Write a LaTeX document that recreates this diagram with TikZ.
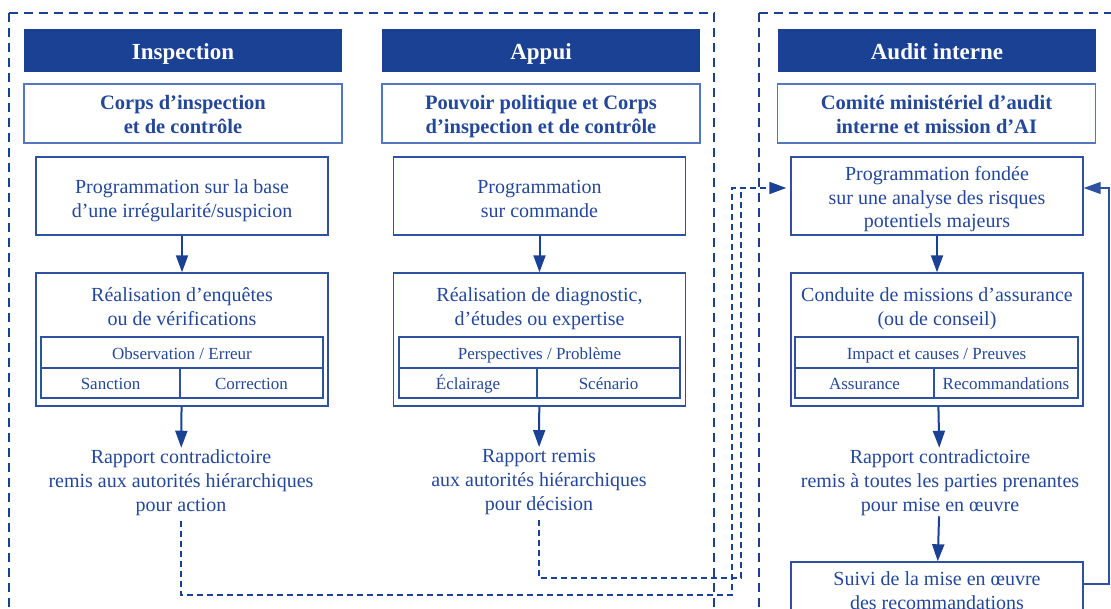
\documentclass[tikz,border=0pt]{standalone}
\usepackage{fontspec}
\setmainfont{Liberation Serif}
\usetikzlibrary{arrows.meta}

\definecolor{navy}{HTML}{1A4194}
\definecolor{ink}{HTML}{23479B}
\definecolor{frame}{HTML}{2E51A0}
\definecolor{lightframe}{HTML}{5577BE}

% invisible strut that fixes the height/depth of the first and last text lines
\newcommand\lowstrut{\vrule width 0pt height .85\baselineskip depth .15\baselineskip}

\tikzset{
  lowtext/.style={execute at begin node=\lowstrut, execute at end node=\lowstrut},
  head/.style={fill=navy, text=white, font=\fontsize{23}{27}\selectfont\bfseries,
    minimum width=318pt, minimum height=43pt, inner sep=0pt,
    text height=17.6pt, text depth=0pt},
  ownerbox/.style={draw=lightframe, line width=1.5pt,
    minimum width=318pt, minimum height=59pt, inner sep=0pt},
  ownertext/.style={lowtext, text=ink, font=\fontsize{20.5}{24}\selectfont\bfseries,
    align=center, inner sep=0pt},
  stepbox/.style={draw=frame, line width=1.4pt, minimum width=292pt, inner sep=0pt},
  caption/.style={lowtext, text=ink, font=\fontsize{20}{23.5}\selectfont, align=center, inner sep=0pt},
  cell/.style={lowtext, draw=frame, line width=1.4pt, text=ink,
    font=\fontsize{17}{20}\selectfont, inner sep=0pt},
  note/.style={lowtext, text=ink, font=\fontsize{20}{24}\selectfont, align=center, inner sep=0pt},
  flow/.style={draw=navy, line width=2pt, -{Triangle[length=17pt,width=12pt]}},
  route/.style={draw=navy, line width=1.8pt, dash pattern=on 6pt off 4pt},
  zone/.style={draw=navy, line width=2.8pt, dash pattern=on 9pt off 6pt},
  back/.style={draw=frame, line width=1.3pt, -{Triangle[length=17pt,width=12pt]}},
}

\begin{document}
\begin{tikzpicture}[x=1pt,y=-1pt]
\useasboundingbox (0,0) rectangle (1111,609);
\clip (0,0) rectangle (1111,609);

% dashed zones
\draw[zone] (9,13) -- (9,625);
\draw[zone] (9,13) -- (714,13) -- (714,625);
\draw[zone] (759,13) -- (759,625);
\draw[zone] (759,13) -- (1135,13);

% ---------- Inspection ----------
\node[head] (ha) at (183,50.5) {Inspection};
\node[ownerbox] (oa) at (183,113.5) {};
\node[ownertext] (oat) at (183,116.5) {Corps d’inspection\\et de contrôle};
\node[stepbox, minimum height=78pt] (a1) at (182,196) {};
\node[caption] (a1t) at (182,200.5) {Programmation sur la base\\d’une irrégularité/suspicion};
\node[stepbox, minimum height=133pt] (a2) at (182,339.5) {};
\node[caption] (ta) at (182,308.5) {Réalisation d’enquêtes\\ou de vérifications};
\node[cell, minimum width=282pt, minimum height=31pt] (ka) at (182,352.5) {Observation / Erreur};
\node[cell, minimum width=139pt, minimum height=30pt] (kal) at (110.5,383) {Sanction};
\node[cell, minimum width=143pt, minimum height=30pt] (kar) at (251.5,383) {Correction};
\node[note] (ra) at (181,483)
  {Rapport contradictoire\\remis aux autorités hiérarchiques\\pour action};

% ---------- Appui ----------
\node[head] (hb) at (541,50.5) {Appui};
\node[ownerbox] (ob) at (541,113.5) {};
\node[ownertext] (obt) at (541,116.5) {Pouvoir politique et Corps\\d’inspection et de contrôle};
\node[stepbox, minimum height=78pt] (b1) at (539.5,196) {};
\node[caption] (b1t) at (539.5,200.5) {Programmation\\sur commande};
\node[stepbox, minimum height=133pt] (b2) at (539.5,339.5) {};
\node[caption] (tb) at (539.5,308.5) {Réalisation de diagnostic,\\d’études ou expertise};
\node[cell, minimum width=281pt, minimum height=31pt] (kb) at (539.5,352.5) {Perspectives / Problème};
\node[cell, minimum width=138pt, minimum height=30pt] (kbl) at (468,383) {Éclairage};
\node[cell, minimum width=143pt, minimum height=30pt] (kbr) at (608.5,383) {Scénario};
\node[note] (rb) at (539,482)
  {Rapport remis\\aux autorités hiérarchiques\\pour décision};

% ---------- Audit interne ----------
\node[head] (hc) at (937,50.5) {Audit interne};
\node[ownerbox] (oc) at (936.5,113.5) {};
\node[ownertext] (oct) at (936.5,116.5) {Comité ministériel d’audit\\interne et mission d’AI};
\node[stepbox, minimum height=78pt] (c1) at (937,196) {};
\node[caption] (c1t) at (937,199.5)
  {Programmation fondée\\sur une analyse des risques\\potentiels majeurs};
\node[stepbox, minimum height=133pt] (c2) at (937,339.5) {};
\node[caption] (tc) at (937,308.5) {Conduite de missions d’assurance\\(ou de conseil)};
\node[cell, minimum width=283pt, minimum height=31pt] (kc) at (936.5,352.5) {Impact et causes / Preuves};
\node[cell, minimum width=139pt, minimum height=30pt] (kcl) at (864.5,383) {Assurance};
\node[cell, minimum width=144pt, minimum height=30pt] (kcr) at (1006,383) {Recommandations};
\node[note] (rc) at (940,483)
  {Rapport contradictoire\\remis à toutes les parties prenantes\\pour mise en œuvre};
\node[stepbox, minimum height=51pt] (c3) at (937,587.5) {};
\node[caption] (c3t) at (937,592.5) {Suivi de la mise en œuvre\\des recommandations};

% vertical flow arrows
\draw[flow] (a1) -- (a2);
\draw[flow, shorten >=2pt] (a2) -- (ra);
\draw[flow] (b1) -- (b2);
\draw[flow, shorten >=2pt] (b2) -- (rb);
\draw[flow] (c1) -- (c2);
\draw[flow, shorten >=2pt] (c2) -- (rc);
\draw[flow] (rc) -- (c3);

% reports feeding the audit programming
\coordinate (entry) at ([yshift=8pt]c1.west);
\coordinate (ja) at (732,595);
\coordinate (jb) at (741,578);
\draw[route, shorten <=5pt] (rb.south) |- (jb) -- (jb |- entry);
\draw[route, shorten <=5pt, shorten >=4pt, -{Triangle[length=17pt,width=12pt]}]
  (ra.south) |- (ja) |- (entry);

% follow-up loop back to programming
\coordinate (loop) at (1109,584);
\coordinate (reentry) at ([yshift=8pt]c1.east);
\draw[back] (c3.east |- loop) -- (loop) -- (loop |- reentry) -- (reentry);
\end{tikzpicture}
\end{document}
